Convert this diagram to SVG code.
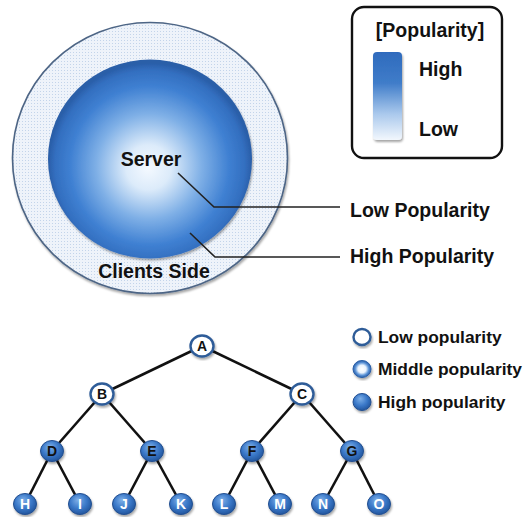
<svg xmlns="http://www.w3.org/2000/svg" width="529" height="517" viewBox="0 0 529 517">
<defs>
<pattern id="dots" width="3" height="3" patternUnits="userSpaceOnUse">
<rect width="3" height="3" fill="#eef3fa"/>
<rect x="1" y="1" width="1" height="1" fill="#c3d4ea"/>
</pattern>
<radialGradient id="sphere" cx="150" cy="165" r="102" fx="148" fy="168" gradientUnits="userSpaceOnUse">
<stop offset="0" stop-color="#f4f9ff"/>
<stop offset="0.22" stop-color="#dcebfa"/>
<stop offset="0.52" stop-color="#7eafe6"/>
<stop offset="0.78" stop-color="#3f80d2"/>
<stop offset="0.93" stop-color="#336fc0"/>
<stop offset="1" stop-color="#2a5ea8"/>
</radialGradient>
<linearGradient id="bar" x1="0" y1="0" x2="0" y2="1">
<stop offset="0" stop-color="#2f6bbd"/>
<stop offset="0.35" stop-color="#3f7cc9"/>
<stop offset="0.7" stop-color="#a9c8ec"/>
<stop offset="1" stop-color="#f2f7fd"/>
</linearGradient>
<radialGradient id="hi" cx="0.45" cy="0.4" r="0.6" fx="0.4" fy="0.3">
<stop offset="0" stop-color="#7fb0e8"/>
<stop offset="0.6" stop-color="#3a78c8"/>
<stop offset="1" stop-color="#23569e"/>
</radialGradient>
<radialGradient id="mid" cx="0.5" cy="0.5" r="0.5">
<stop offset="0" stop-color="#ffffff"/>
<stop offset="0.45" stop-color="#eaf3fd"/>
<stop offset="0.75" stop-color="#5a92d6"/>
<stop offset="1" stop-color="#2a5fa8"/>
</radialGradient>
<filter id="shadow" x="-20%" y="-20%" width="140%" height="140%">
<feDropShadow dx="1" dy="2" stdDeviation="1.2" flood-color="#000" flood-opacity="0.35"/>
</filter>
</defs>
<style>
text{font-family:"Liberation Sans",Arial,sans-serif;font-weight:bold;fill:#111;}
.big{font-size:19.5px;}
.leg{font-size:17.4px;}
.nl{font-size:14px;text-anchor:middle;}
.lead{fill:none;stroke:#222;stroke-width:1.6;}
.edge{stroke:#111;stroke-width:2.6;fill:none;}
.low{fill:#fff;stroke:#2e5c98;stroke-width:2.4;}
.high{fill:url(#hi);stroke:#234f90;stroke-width:1;}
</style>

<!-- Popularity rings -->
<g id="clients-side">
<ellipse cx="150" cy="158" rx="137.5" ry="135.5" fill="url(#dots)" stroke="#4d6585" stroke-width="1.6" filter="url(#shadow)"/>
<text x="154" y="278" class="big" text-anchor="middle">Clients Side</text>
</g>
<g id="server">
<ellipse cx="150" cy="159" rx="102" ry="99.5" fill="url(#sphere)" filter="url(#shadow)"/>
<text x="151" y="166" class="big" text-anchor="middle">Server</text>
</g>

<g id="callouts">
<polyline class="lead" points="178,173 214,207 340,207"/>
<polyline class="lead" points="190,233 215,257 340,257"/>
<text x="350" y="217" class="big">Low Popularity</text>
<text x="350" y="263" class="big">High Popularity</text>
</g>

<g id="popularity-legend">
<rect x="352" y="7" width="150" height="151" rx="12" fill="#fff" stroke="#111" stroke-width="2.4"/>
<text x="430" y="37" class="big" text-anchor="middle">[Popularity]</text>
<rect x="373" y="52" width="29" height="88" rx="4" fill="url(#bar)" filter="url(#shadow)"/>
<text x="419" y="76" class="big">High</text>
<text x="419" y="136" class="big">Low</text>
</g>

<!-- Tree -->
<g id="connectors">
<line class="edge" x1="202" y1="346" x2="102" y2="394"/>
<line class="edge" x1="202" y1="346" x2="302" y2="394"/>
<line class="edge" x1="102" y1="394" x2="52" y2="451"/>
<line class="edge" x1="102" y1="394" x2="152" y2="451"/>
<line class="edge" x1="302" y1="394" x2="252" y2="451"/>
<line class="edge" x1="302" y1="394" x2="352" y2="451"/>
<line class="edge" x1="52" y1="451" x2="25" y2="504"/>
<line class="edge" x1="52" y1="451" x2="80" y2="504"/>
<line class="edge" x1="152" y1="451" x2="124" y2="504"/>
<line class="edge" x1="152" y1="451" x2="181" y2="504"/>
<line class="edge" x1="252" y1="451" x2="224" y2="504"/>
<line class="edge" x1="252" y1="451" x2="280" y2="504"/>
<line class="edge" x1="352" y1="451" x2="323" y2="504"/>
<line class="edge" x1="352" y1="451" x2="379" y2="504"/>
</g>

<g id="node-A"><ellipse class="low" cx="202" cy="346" rx="11.5" ry="10.5" filter="url(#shadow)"/><text class="nl" x="202" y="351">A</text></g>
<g id="node-B"><ellipse class="low" cx="102" cy="394" rx="11.5" ry="10.5" filter="url(#shadow)"/><text class="nl" x="102" y="399">B</text></g>
<g id="node-C"><ellipse class="low" cx="302" cy="394" rx="11.5" ry="10.5" filter="url(#shadow)"/><text class="nl" x="302" y="399">C</text></g>

<g id="node-D"><ellipse class="high" cx="52" cy="451" rx="11.5" ry="10.5" filter="url(#shadow)"/><text class="nl" x="52" y="456">D</text></g>
<g id="node-E"><ellipse class="high" cx="152" cy="451" rx="11.5" ry="10.5" filter="url(#shadow)"/><text class="nl" x="152" y="456">E</text></g>
<g id="node-F"><ellipse class="high" cx="252" cy="451" rx="11.5" ry="10.5" filter="url(#shadow)"/><text class="nl" x="252" y="456">F</text></g>
<g id="node-G"><ellipse class="high" cx="352" cy="451" rx="11.5" ry="10.5" filter="url(#shadow)"/><text class="nl" x="352" y="456">G</text></g>

<g id="node-H"><ellipse class="high" cx="25" cy="504" rx="11.5" ry="10.5" filter="url(#shadow)"/><text class="nl" x="25" y="509" style="fill:#fff">H</text></g>
<g id="node-I"><ellipse class="high" cx="80" cy="504" rx="11.5" ry="10.5" filter="url(#shadow)"/><text class="nl" x="80" y="509" style="fill:#fff">I</text></g>
<g id="node-J"><ellipse class="high" cx="124" cy="504" rx="11.5" ry="10.5" filter="url(#shadow)"/><text class="nl" x="124" y="509" style="fill:#fff">J</text></g>
<g id="node-K"><ellipse class="high" cx="181" cy="504" rx="11.5" ry="10.5" filter="url(#shadow)"/><text class="nl" x="181" y="509" style="fill:#fff">K</text></g>
<g id="node-L"><ellipse class="high" cx="224" cy="504" rx="11.5" ry="10.5" filter="url(#shadow)"/><text class="nl" x="224" y="509" style="fill:#fff">L</text></g>
<g id="node-M"><ellipse class="high" cx="280" cy="504" rx="11.5" ry="10.5" filter="url(#shadow)"/><text class="nl" x="280" y="509" style="fill:#fff">M</text></g>
<g id="node-N"><ellipse class="high" cx="323" cy="504" rx="11.5" ry="10.5" filter="url(#shadow)"/><text class="nl" x="323" y="509" style="fill:#fff">N</text></g>
<g id="node-O"><ellipse class="high" cx="379" cy="504" rx="11.5" ry="10.5" filter="url(#shadow)"/><text class="nl" x="379" y="509" style="fill:#fff">O</text></g>

<g id="tree-legend">
<ellipse class="low" cx="362" cy="337" rx="8.5" ry="8" filter="url(#shadow)"/>
<text x="378" y="343" class="leg">Low popularity</text>
<ellipse cx="362" cy="369" rx="9" ry="8.5" fill="url(#mid)" stroke="#2a5fa8" stroke-width="1" filter="url(#shadow)"/>
<text x="378" y="375" class="leg">Middle popularity</text>
<ellipse class="high" cx="362" cy="402" rx="9" ry="8.5" filter="url(#shadow)"/>
<text x="378" y="408" class="leg">High popularity</text>
</g>
</svg>
